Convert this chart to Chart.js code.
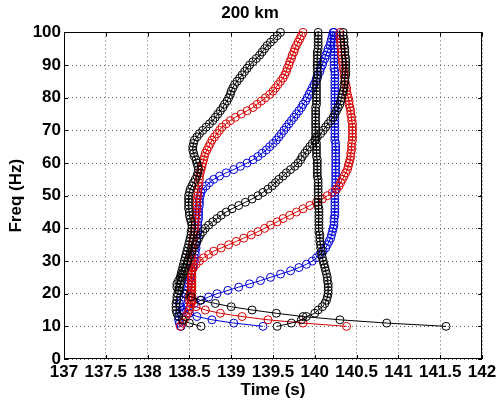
<!DOCTYPE html>
<html lang="en">
<head>
    <meta charset="UTF-8">
    <title>200 km</title>
    <script src="https://cdn.jsdelivr.net/npm/chart.js"></script>
    <style>
        html, body { margin: 0; padding: 0; background: #fff; }
        #wrap { width: 500px; height: 412px; }
    </style>
</head>
<body>
    <div id="wrap"><canvas id="myChart" width="500" height="412"></canvas></div>
    <script>
        // frequencies (Hz), shared by every curve
        const freqHz = [
            10, 11, 12, 13, 14, 15, 16, 17, 18, 19,
            20, 21, 22, 23, 24, 25, 26, 27, 28, 29,
            30, 31, 32, 33, 34, 35, 36, 37, 38, 39,
            40, 41, 42, 43, 44, 45, 46, 47, 48, 49,
            50, 51, 52, 53, 54, 55, 56, 57, 58, 59,
            60, 61, 62, 63, 64, 65, 66, 67, 68, 69,
            70, 71, 72, 73, 74, 75, 76, 77, 78, 79,
            80, 81, 82, 83, 84, 85, 86, 87, 88, 89,
            90, 91, 92, 93, 94, 95, 96, 97, 98, 99,
            100
        ];

        // arrival times (s), one value per frequency
        const blackMode1 = [
            141.57, 140.86, 140.30, 139.86, 139.54, 139.25, 139.00, 138.81, 138.63, 138.52,
            138.44, 138.38, 138.35, 138.35, 138.37, 138.39, 138.40, 138.41, 138.42, 138.43,
            138.44, 138.45, 138.46, 138.47, 138.48, 138.49, 138.50, 138.51, 138.52, 138.52,
            138.53, 138.53, 138.52, 138.51, 138.50, 138.50, 138.49, 138.49, 138.49, 138.49,
            138.49, 138.50, 138.51, 138.53, 138.55, 138.57, 138.59, 138.60, 138.61, 138.60,
            138.59, 138.58, 138.56, 138.55, 138.54, 138.54, 138.55, 138.56, 138.59, 138.62,
            138.66, 138.70, 138.74, 138.78, 138.81, 138.84, 138.87, 138.90, 138.92, 138.95,
            138.97, 138.99, 139.00, 139.02, 139.04, 139.07, 139.10, 139.13, 139.16, 139.19,
            139.22, 139.26, 139.30, 139.34, 139.37, 139.40, 139.43, 139.47, 139.51, 139.55,
            139.59
        ];
        const blackMode2 = [
            138.64, 138.50, 138.42, 138.37, 138.35, 138.34, 138.34, 138.34, 138.35, 138.35,
            138.36, 138.37, 138.38, 138.39, 138.40, 138.41, 138.42, 138.44, 138.45, 138.47,
            138.48, 138.50, 138.51, 138.53, 138.55, 138.57, 138.59, 138.61, 138.63, 138.66,
            138.69, 138.73, 138.78, 138.83, 138.88, 138.94, 139.01, 139.09, 139.17, 139.25,
            139.32, 139.38, 139.44, 139.49, 139.53, 139.57, 139.62, 139.66, 139.71, 139.76,
            139.80, 139.83, 139.85, 139.88, 139.91, 139.94, 139.97, 140.00, 140.03, 140.07,
            140.10, 140.13, 140.16, 140.19, 140.22, 140.24, 140.26, 140.28, 140.30, 140.31,
            140.32, 140.33, 140.34, 140.35, 140.35, 140.36, 140.36, 140.37, 140.37, 140.37,
            140.37, 140.37, 140.37, 140.36, 140.36, 140.36, 140.35, 140.35, 140.35, 140.34,
            140.34
        ];
        const blackMode3 = [
            139.55, 139.72, 139.84, 139.90, 140.00, 140.04, 140.09, 140.12, 140.14, 140.15,
            140.16, 140.16, 140.16, 140.16, 140.15, 140.15, 140.14, 140.13, 140.12, 140.11,
            140.10, 140.09, 140.08, 140.08, 140.07, 140.07, 140.06, 140.06, 140.06, 140.05,
            140.05, 140.05, 140.05, 140.05, 140.05, 140.05, 140.05, 140.04, 140.04, 140.04,
            140.04, 140.04, 140.04, 140.04, 140.04, 140.04, 140.03, 140.03, 140.03, 140.03,
            140.03, 140.03, 140.02, 140.02, 140.02, 140.02, 140.02, 140.01, 140.01, 140.01,
            140.01, 140.01, 140.01, 140.01, 140.01, 140.01, 140.01, 140.01, 140.02, 140.02,
            140.02, 140.02, 140.02, 140.02, 140.02, 140.02, 140.03, 140.03, 140.03, 140.03,
            140.03, 140.03, 140.03, 140.03, 140.03, 140.04, 140.04, 140.04, 140.04, 140.04,
            140.04
        ];
        const redMode1 = [
            140.38, 139.86, 139.44, 139.13, 138.87, 138.69, 138.58, 138.52, 138.50, 138.50,
            138.51, 138.52, 138.52, 138.52, 138.52, 138.52, 138.52, 138.52, 138.52, 138.52,
            138.52, 138.52, 138.53, 138.53, 138.53, 138.54, 138.54, 138.55, 138.55, 138.56,
            138.56, 138.57, 138.57, 138.57, 138.58, 138.58, 138.59, 138.59, 138.59, 138.59,
            138.60, 138.60, 138.60, 138.61, 138.61, 138.62, 138.62, 138.63, 138.64, 138.65,
            138.66, 138.67, 138.68, 138.69, 138.71, 138.73, 138.75, 138.77, 138.80, 138.83,
            138.86, 138.89, 138.94, 138.99, 139.05, 139.12, 139.19, 139.26, 139.31, 139.36,
            139.41, 139.46, 139.50, 139.53, 139.56, 139.59, 139.62, 139.64, 139.66, 139.67,
            139.69, 139.70, 139.72, 139.73, 139.75, 139.76, 139.78, 139.80, 139.82, 139.84,
            139.86
        ];
        const redMode2 = [
            138.39, 138.42, 138.44, 138.46, 138.48, 138.50, 138.51, 138.52, 138.53, 138.53,
            138.53, 138.53, 138.53, 138.53, 138.53, 138.53, 138.53, 138.53, 138.55, 138.58,
            138.62, 138.67, 138.73, 138.79, 138.88, 138.97, 139.06, 139.15, 139.24, 139.32,
            139.40, 139.47, 139.55, 139.62, 139.70, 139.78, 139.86, 139.94, 140.02, 140.09,
            140.15, 140.21, 140.26, 140.29, 140.31, 140.33, 140.35, 140.37, 140.39, 140.40,
            140.41, 140.42, 140.43, 140.43, 140.44, 140.44, 140.44, 140.45, 140.45, 140.45,
            140.45, 140.45, 140.45, 140.44, 140.44, 140.43, 140.43, 140.42, 140.41, 140.41,
            140.40, 140.39, 140.38, 140.38, 140.37, 140.36, 140.36, 140.35, 140.35, 140.34,
            140.34, 140.33, 140.33, 140.32, 140.32, 140.32, 140.31, 140.31, 140.30, 140.30,
            140.30
        ];
        const blueMode1 = [
            139.38, 139.03, 138.77, 138.59, 138.50, 138.43, 138.39, 138.38, 138.40, 138.43,
            138.46, 138.47, 138.48, 138.49, 138.50, 138.51, 138.52, 138.53, 138.54, 138.55,
            138.56, 138.56, 138.57, 138.57, 138.58, 138.58, 138.59, 138.59, 138.59, 138.60,
            138.60, 138.60, 138.60, 138.61, 138.61, 138.61, 138.61, 138.62, 138.62, 138.62,
            138.63, 138.64, 138.66, 138.70, 138.74, 138.79, 138.86, 138.94, 139.03, 139.11,
            139.19, 139.26, 139.32, 139.37, 139.42, 139.46, 139.50, 139.54, 139.57, 139.60,
            139.63, 139.66, 139.69, 139.72, 139.75, 139.78, 139.81, 139.84, 139.86, 139.89,
            139.91, 139.93, 139.95, 139.97, 139.99, 140.01, 140.02, 140.04, 140.06, 140.07,
            140.09, 140.10, 140.12, 140.13, 140.15, 140.16, 140.18, 140.19, 140.20, 140.21,
            140.22
        ];
        const blueMode2 = [
            138.40, 138.38, 138.37, 138.37, 138.38, 138.41, 138.48, 138.56, 138.64, 138.73,
            138.83, 138.96, 139.09, 139.22, 139.35, 139.47, 139.59, 139.71, 139.81, 139.90,
            139.97, 140.02, 140.06, 140.10, 140.13, 140.15, 140.17, 140.19, 140.20, 140.21,
            140.22, 140.23, 140.23, 140.23, 140.24, 140.24, 140.24, 140.24, 140.24, 140.24,
            140.24, 140.24, 140.25, 140.25, 140.25, 140.25, 140.25, 140.25, 140.25, 140.25,
            140.25, 140.25, 140.25, 140.25, 140.25, 140.25, 140.25, 140.24, 140.24, 140.24,
            140.24, 140.24, 140.24, 140.24, 140.24, 140.24, 140.24, 140.24, 140.24, 140.24,
            140.24, 140.24, 140.24, 140.24, 140.24, 140.24, 140.24, 140.24, 140.24, 140.23,
            140.23, 140.23, 140.23, 140.23, 140.23, 140.23, 140.23, 140.23, 140.23, 140.23,
            140.23
        ];

        const BLACK = '#000000';
        const RED = 'rgb(215,0,0)';
        const BLUE = 'rgb(0,0,215)';
        const FONT = "'Liberation Sans', Arial, sans-serif";

        function curve(times, color) {
            return {
                data: times.map((t, i) => ({ x: t, y: freqHz[i] })),
                showLine: true,
                borderColor: color,
                borderWidth: 1,
                pointStyle: 'circle',
                pointRadius: 4,
                pointBorderWidth: 1,
                pointBorderColor: color,
                pointBackgroundColor: 'rgba(0,0,0,0)',
                pointHoverRadius: 4,
                clip: false
            };
        }

        // axes box and small inward ticks, matlab style
        const frame = {
            id: 'frame',
            beforeDatasetsDraw(chart) {
                const { ctx, chartArea: a, scales: { x, y } } = chart;
                ctx.save();
                ctx.strokeStyle = '#000';
                ctx.lineWidth = 1;
                ctx.beginPath();
                x.ticks.forEach(t => {
                    const px = Math.round(x.getPixelForValue(t.value)) + 0.5;
                    ctx.moveTo(px, a.bottom); ctx.lineTo(px, a.bottom - 4);
                    ctx.moveTo(px, a.top); ctx.lineTo(px, a.top + 4);
                });
                y.ticks.forEach(t => {
                    const py = Math.round(y.getPixelForValue(t.value)) + 0.5;
                    ctx.moveTo(a.left, py); ctx.lineTo(a.left + 4, py);
                    ctx.moveTo(a.right, py); ctx.lineTo(a.right - 4, py);
                });
                ctx.stroke();
                ctx.strokeRect(Math.round(a.left) + 0.5, Math.round(a.top) + 0.5,
                    Math.round(a.width) - 1, Math.round(a.height) - 1);
                ctx.restore();
            }
        };

        const ctx = document.getElementById('myChart').getContext('2d');
        const myChart = new Chart(ctx, {
            type: 'scatter',
            data: {
                datasets: [
                    curve(blackMode1, BLACK),
                    curve(blackMode2, BLACK),
                    curve(blackMode3, BLACK),
                    curve(redMode1, RED),
                    curve(redMode2, RED),
                    curve(blueMode1, BLUE),
                    curve(blueMode2, BLUE)
                ]
            },
            options: {
                responsive: false,
                animation: false,
                events: [],
                plugins: {
                    legend: { display: false },
                    tooltip: { enabled: false },
                    title: {
                        display: true,
                        text: '200 km',
                        color: '#000',
                        font: { family: FONT, size: 17, weight: 'bold' },
                        padding: { top: 3, bottom: 9 }
                    }
                },
                scales: {
                    x: {
                        type: 'linear',
                        min: 137,
                        max: 142,
                        ticks: {
                            stepSize: 0.5,
                            autoSkip: false,
                            maxRotation: 0,
                            padding: 3,
                            color: '#000',
                            font: { family: FONT, size: 17, weight: 'bold' },
                            callback: v => String(Math.round(v * 10) / 10)
                        },
                        grid: { color: 'rgba(0,0,0,0.6)', lineWidth: 1, drawTicks: false },
                        border: { display: false, dash: [1, 3] },
                        title: {
                            display: true,
                            text: 'Time (s)',
                            color: '#000',
                            font: { family: FONT, size: 17, weight: 'bold' },
                            padding: { top: 0, bottom: 11 }
                        },
                        afterFit(s) { s.height = 53; s.paddingRight = 18; s.paddingLeft = 0; }
                    },
                    y: {
                        type: 'linear',
                        min: 0,
                        max: 100,
                        ticks: {
                            stepSize: 10,
                            padding: 3,
                            color: '#000',
                            font: { family: FONT, size: 17, weight: 'bold' }
                        },
                        grid: { color: 'rgba(0,0,0,0.6)', lineWidth: 1, drawTicks: false },
                        border: { display: false, dash: [1, 3] },
                        title: {
                            display: true,
                            text: 'Freq (Hz)',
                            color: '#000',
                            font: { family: FONT, size: 17, weight: 'bold' },
                            padding: { top: 6, bottom: 0 }
                        },
                        afterFit(s) { s.width = 64; }
                    }
                }
            },
            plugins: [frame]
        });
    </script>
</body>
</html>
